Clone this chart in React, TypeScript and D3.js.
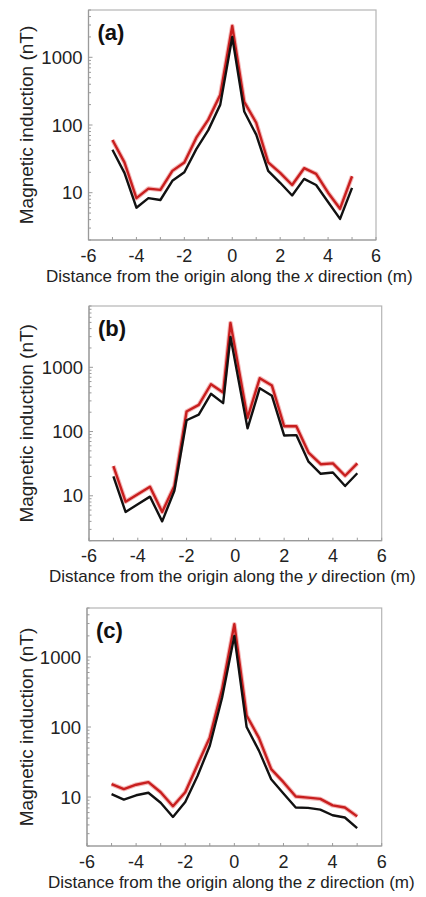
import * as d3 from "d3"

// sample positions (m)
const xAB = [-5, -4.5, -4, -3.5, -3, -2.5, -2, -1.5, -1, -0.5, 0, 0.5, 1, 1.5, 2, 2.5, 3, 3.5, 4, 4.5, 5]
const xB = [-5, -4.5, -4, -3.5, -3, -2.5, -2, -1.5, -1, -0.5, -0.2, 0.5, 1, 1.5, 2, 2.5, 3, 3.5, 4, 4.5, 5]

// panel (a): x direction
const redA = [60, 28, 8.3, 11.5, 11, 21, 28, 65, 120, 280, 2900, 220, 108, 28, 19.6, 13, 23, 19, 10, 5.8, 17.5]
const blackA = [43, 19.6, 6, 8.3, 7.8, 15, 20, 44, 84, 200, 2000, 158, 72, 21, 14, 9.1, 16, 13, 7.3, 4.1, 11.8]

// panel (b): y direction
const redB = [29, 8.1, 10.6, 13.8, 5.6, 14.2, 205, 260, 545, 405, 4900, 163, 675, 520, 121, 121, 47, 31, 32, 20.5, 32]
const blackB = [20, 5.6, 7.4, 9.7, 4, 12, 150, 183, 387, 277, 2980, 112, 473, 360, 87, 88, 34, 22, 23, 14.2, 22.4]

// panel (c): z direction
const redC = [15.3, 13, 15, 16.3, 11.7, 7.4, 11.7, 29, 71, 344, 2930, 146, 70, 25, 16.3, 10.2, 9.8, 9.4, 7.6, 7.1, 5.3]
const blackC = [11, 9.2, 10.6, 11.5, 8.3, 5.2, 8.5, 20, 54, 262, 2000, 100, 46, 18, 11.2, 7.1, 7, 6.6, 5.5, 5.1, 3.6]

const xTickLabels = [-6, -4, -2, 0, 2, 4, 6]
const yTickLabels = [10, 100, 1000]

const FONT = "'Liberation Sans', Arial, Helvetica, sans-serif"

function Panel({ tag, axisName, xs, red, black, yMax, box }) {
    const { left, right, top, bottom } = box
    const x = d3.scaleLinear().domain([-6, 6]).range([left, right])
    const y = d3.scaleLog().domain([2, yMax]).range([bottom, top])

    const line = d3.line().x(d => x(d[0])).y(d => y(d[1]))
    const redPath = line(xs.map((v, i) => [v, red[i]]))
    const blackPath = line(xs.map((v, i) => [v, black[i]]))

    const minor = []
    for (let dec = 1; dec <= 1000; dec *= 10) {
        for (let m = 2; m <= 9; m++) {
            const v = m * dec
            if (v >= 2 && v <= yMax) minor.push(v)
        }
    }
    const xt = d3.range(-6, 7, 1)
    const axisColor = "#9a9a9a"

    return (
        <g>
            <rect x={left} y={top} width={right - left} height={bottom - top} fill="none" stroke="#b5b5b5" strokeWidth={1.2} />
            <line x1={left} x2={left} y1={top} y2={bottom} stroke={axisColor} strokeWidth={1.2} />
            <line x1={left} x2={right} y1={bottom} y2={bottom} stroke={axisColor} strokeWidth={1.2} />
            {minor.map(v => (
                <line key={"m" + v} x1={left} x2={left + 2.5} y1={y(v)} y2={y(v)} stroke={axisColor} strokeWidth={1} />
            ))}
            {yTickLabels.map(v => (
                <g key={"y" + v}>
                    <line x1={left} x2={left + 4} y1={y(v)} y2={y(v)} stroke={axisColor} strokeWidth={1} />
                    <text x={left - 6} y={y(v)} dy="0.36em" textAnchor="end" fontSize={18.5} fill="#222">{v}</text>
                </g>
            ))}
            {xt.map(v => (
                <line key={"x" + v} x1={x(v)} x2={x(v)} y1={bottom} y2={bottom - 3} stroke={axisColor} strokeWidth={1} />
            ))}
            {xTickLabels.map(v => (
                <text key={"xl" + v} x={x(v)} y={bottom + 21.5} textAnchor="middle" fontSize={18} fill="#222">{v}</text>
            ))}
            <path d={redPath} fill="none" stroke="#e03030" strokeOpacity={0.35} strokeWidth={4.5} strokeLinejoin="round" />
            <path d={redPath} fill="none" stroke="#c81e1e" strokeWidth={2.4} strokeLinejoin="round" />
            <path d={blackPath} fill="none" stroke="#111" strokeWidth={2.4} strokeLinejoin="round" />
            <text x={left + 9} y={top + 30} fontSize={22} fontWeight="bold" fill="#111">{tag}</text>
            <text transform={`translate(26,${(top + bottom) / 2}) rotate(-90)`} textAnchor="middle" dy="0.35em" fontSize={19} fill="#222">
                Magnetic induction (nT)
            </text>
            <text x={(left + right) / 2 - 3} y={bottom + 41.5} textAnchor="middle" fontSize={17} fill="#222">
                Distance from the origin along the <tspan fontStyle="italic">{axisName}</tspan> direction (m)
            </text>
        </g>
    )
}

export default function App() {
    return (
        <svg width={426} height={897} viewBox="0 0 426 897"
            style={{ position: "absolute", left: 0, top: 0, background: "#fff", fontFamily: FONT }}>
            <Panel tag="(a)" axisName="x" xs={xAB} red={redA} black={blackA} yMax={5000}
                box={{ left: 88.5, right: 376, top: 10, bottom: 240 }} />
            <Panel tag="(b)" axisName="y" xs={xB} red={redB} black={blackB} yMax={9000}
                box={{ left: 89, right: 381.7, top: 306, bottom: 540.7 }} />
            <Panel tag="(c)" axisName="z" xs={xAB} red={redC} black={blackC} yMax={5000}
                box={{ left: 87, right: 381.7, top: 608, bottom: 846 }} />
        </svg>
    )
}
